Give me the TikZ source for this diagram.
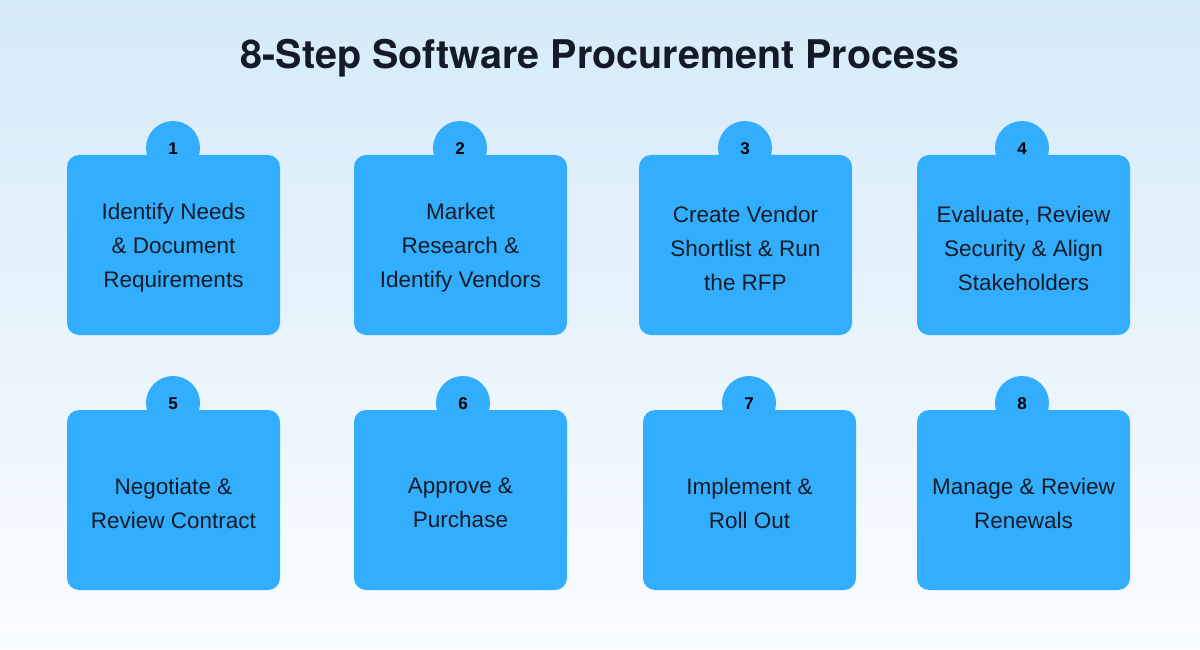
\documentclass[tikz,border=0pt]{standalone}
\usepackage{fontspec}
\setmainfont{Liberation Sans}
\newfontfamily\titlefont{TeX Gyre Heros}
\definecolor{bgtop}{HTML}{D5EAF8}
\definecolor{bgbot}{HTML}{FAFCFF}
\definecolor{boxblue}{HTML}{33AEFF}
\definecolor{ink}{HTML}{151B26}
\begin{document}
\begin{tikzpicture}[x=1pt,y=-1pt,
  card/.style={fill=boxblue, rounded corners=12pt},
  tab/.style={fill=boxblue, circle, minimum size=54pt, inner sep=0pt},
  num/.style={font=\bfseries\fontsize{17}{17}\selectfont, text=black},
  label/.style={font=\fontsize{22.5}{34}\selectfont, text=ink, align=center}]
\shade[top color=bgtop, bottom color=bgbot] (0,0) rectangle (1200,650);
\useasboundingbox (0,0) rectangle (1200,650);
\node[font=\titlefont\bfseries\fontsize{39.5}{44}\selectfont, text=ink] (title) at (600,58) {8-Step Software Procurement Process};
\foreach \n/\lx/\ty/\tx/\txt in {
  1/67/155/173/{Identify Needs\\\& Document\\Requirements},
  2/354/155/460/{Market\\Research \&\\Identify Vendors},
  3/639/155/745/{Create Vendor\\Shortlist \& Run\\the RFP},
  4/917/155/1022/{Evaluate, Review\\Security \& Align\\Stakeholders},
  5/67/410/173/{Negotiate \&\\Review Contract},
  6/354/410/463/{Approve \&\\Purchase},
  7/643/410/749/{Implement \&\\Roll Out},
  8/917/410/1022/{Manage \& Review\\Renewals}} {
  \node[tab] (tab\n) at (\tx,\ty-7) {};
  \fill[card] (\lx,\ty) rectangle ++(213,180);
  \node[num] (num\n) at (\tx,\ty-6) {\n};
  \node[label] (lab\n) at (\lx+106.5,\ty+93) {\txt};
}
\end{tikzpicture}
\end{document}
